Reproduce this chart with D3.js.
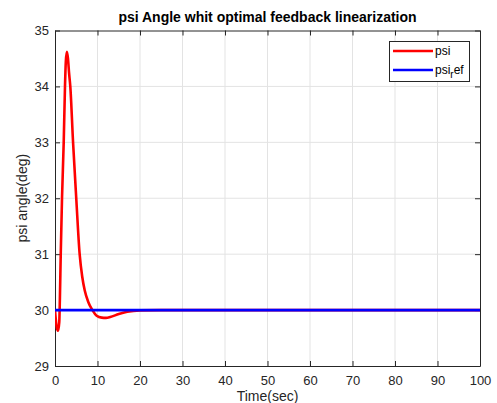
<!DOCTYPE html>
<html><head><meta charset="utf-8">
<script src="https://cdn.jsdelivr.net/npm/d3@7"></script>
<style>body{margin:0;background:#fff}svg{display:block}</style>
</head><body>
<script>
// Data
const time = [0, 0.35, 0.7, 1.0, 1.15, 1.35, 1.65, 2.05, 2.35, 2.55, 2.8, 3.05, 3.3, 3.6, 4.25, 5.0, 5.8, 6.4, 7.0, 7.8, 8.8, 9.8, 11, 12, 13, 15, 17, 20, 25, 100];
const psi  = [30, 29.72, 29.63, 29.78, 30.2, 31, 32, 33, 34, 34.45, 34.62, 34.5, 34.25, 34, 33, 32, 31, 30.6, 30.35, 30.15, 30, 29.9, 29.865, 29.86, 29.875, 29.93, 29.97, 29.995, 30, 30];
const refTime = [0, 100];
const psiRef = [30, 30];
const xTicks = [0,10,20,30,40,50,60,70,80,90,100];
const yTicks = [29,30,31,32,33,34,35];
const titleText = "psi Angle whit optimal feedback linearization";
const xLabel = "Time(sec)";
const yLabel = "psi angle(deg)";

const W = 497, H = 403;
const m = {l:55, r:480, t:30.5, b:366};
const svg = d3.select("body").append("svg").attr("width", W).attr("height", H)
  .style("font-family", "'Liberation Sans', Arial, sans-serif");

const x = d3.scaleLinear().domain([0,100]).range([m.l, m.r]);
const y = d3.scaleLinear().domain([29,35]).range([m.b, m.t]);

// grid
const g = svg.append("g");
g.selectAll(".gx").data(xTicks.slice(1,-1)).enter().append("line")
  .attr("x1", d=>x(d)).attr("x2", d=>x(d)).attr("y1", m.t).attr("y2", m.b)
  .attr("stroke", "#e3e3e3").attr("stroke-width", 1);
g.selectAll(".gy").data(yTicks.slice(1,-1)).enter().append("line")
  .attr("y1", d=>y(d)).attr("y2", d=>y(d)).attr("x1", m.l).attr("x2", m.r)
  .attr("stroke", "#e3e3e3").attr("stroke-width", 1);

const fmt = d3.format("d");
// axes
const ax = svg.append("g").attr("transform", `translate(0,${m.b})`)
  .call(d3.axisBottom(x).tickValues(xTicks).tickFormat(fmt).tickSizeInner(-5).tickSizeOuter(0).tickPadding(10));
const axTop = svg.append("g").attr("transform", `translate(0,${m.t})`)
  .call(d3.axisTop(x).tickValues(xTicks).tickSizeInner(-5).tickSizeOuter(0).tickFormat(""));
const ay = svg.append("g").attr("transform", `translate(${m.l},0)`)
  .call(d3.axisLeft(y).tickValues(yTicks).tickFormat(fmt).tickSizeInner(-5).tickSizeOuter(0).tickPadding(6));
const ayR = svg.append("g").attr("transform", `translate(${m.r},0)`)
  .call(d3.axisRight(y).tickValues(yTicks).tickSizeInner(-5).tickSizeOuter(0).tickFormat(""));
[ax, axTop, ay, ayR].forEach(a => {
  a.selectAll("path").attr("stroke", "#262626");
  a.selectAll("line").attr("stroke", "#262626");
  a.selectAll("text").attr("fill", "#262626").style("font-size", "13px").style("font-family", "'Liberation Sans', Arial, sans-serif");
});

// lines
svg.append("clipPath").attr("id","c").append("rect")
  .attr("x", m.l).attr("y", m.t).attr("width", m.r-m.l).attr("height", m.b-m.t);
const line = d3.line().x(d=>x(d[0])).y(d=>y(d[1])).curve(d3.curveMonotoneX);
svg.append("path").datum(time.map((t,i)=>[t, psi[i]]))
  .attr("d", line).attr("fill","none").attr("stroke","#ff0000").attr("stroke-width",2.6)
  .attr("stroke-linejoin","round").attr("clip-path","url(#c)");
svg.append("path").datum(refTime.map((t,i)=>[t, psiRef[i]]))
  .attr("d", line).attr("fill","none").attr("stroke","#0000ff").attr("stroke-width",2.6);

// title and labels
svg.append("text").attr("x", (m.l+m.r)/2).attr("y", 22).attr("text-anchor","middle")
  .style("font-size","14px").style("font-weight","bold").attr("fill","#000").text(titleText);
svg.append("text").attr("x", (m.l+m.r)/2).attr("y", 401).attr("text-anchor","middle")
  .style("font-size","14px").attr("fill","#262626").text(xLabel);
svg.append("text").attr("transform", `translate(27,${(m.t+m.b)/2}) rotate(-90)`).attr("text-anchor","middle")
  .style("font-size","14px").attr("fill","#262626").text(yLabel);

// legend
const lg = svg.append("g");
lg.append("rect").attr("x",389.5).attr("y",41.5).attr("width",80).attr("height",40)
  .attr("fill","#fff").attr("stroke","#262626").attr("stroke-width",1);
const items = [{c:"#ff0000", yy:51}, {c:"#0000ff", yy:70}];
items.forEach(it => lg.append("line").attr("x1",393).attr("x2",433).attr("y1",it.yy).attr("y2",it.yy)
  .attr("stroke",it.c).attr("stroke-width",2.6));
lg.append("text").attr("x",435).attr("y",55).style("font-size","12px").attr("fill","#000").text("psi");
const t2 = lg.append("text").attr("x",435).attr("y",74).style("font-size","12px").attr("fill","#000");
t2.append("tspan").text("psi");
t2.append("tspan").attr("dy",4).style("font-size","10px").text("r");
t2.append("tspan").attr("dy",-4).text("ef");
</script>
</body></html>
